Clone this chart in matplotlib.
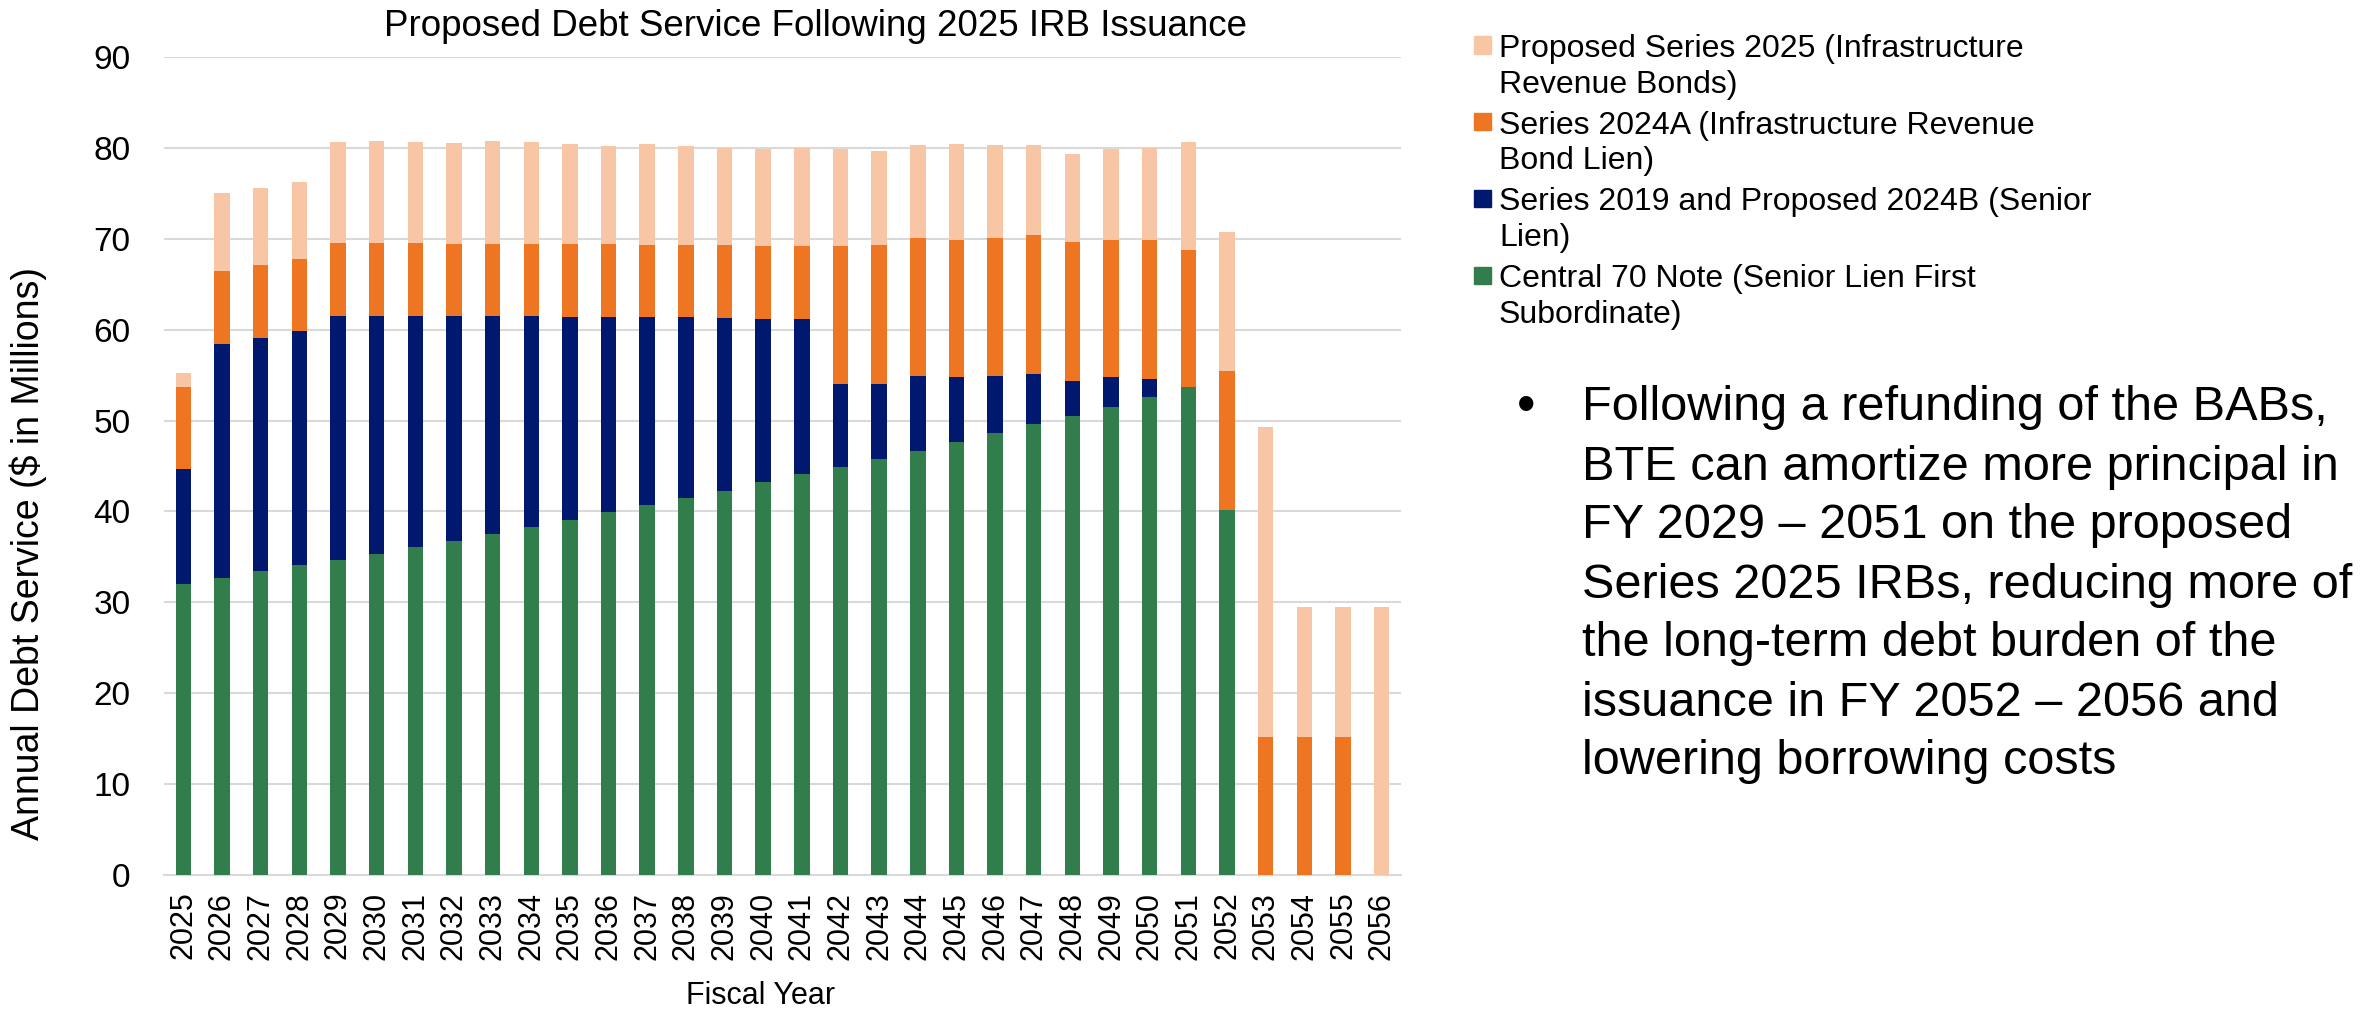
import numpy as np
import matplotlib
matplotlib.use("Agg")
import matplotlib.pyplot as plt
from matplotlib.patches import Rectangle

plt.rcParams["font.family"] = ["Liberation Sans", "DejaVu Sans"]

# fiscal years and debt service ($ millions) by lien
years = [str(y) for y in range(2025, 2057)]

central70 = [32.0, 32.7, 33.4, 34.1, 34.7, 35.3, 36.1, 36.8, 37.5, 38.3, 39.1, 39.9,
             40.7, 41.5, 42.3, 43.2, 44.1, 44.9, 45.8, 46.7, 47.6, 48.6, 49.6, 50.5,
             51.5, 52.6, 53.7, 40.2, 0, 0, 0, 0]
series2019 = [12.7, 25.7, 25.7, 25.7, 26.8, 26.2, 25.4, 24.7, 24.0, 23.2, 22.3, 21.5,
              20.7, 19.9, 19.0, 18.0, 17.1, 9.1, 8.2, 8.2, 7.2, 6.3, 5.5, 3.8,
              3.3, 2.0, 0, 0, 0, 0, 0, 0]
series2024a = [9.0, 8.0, 8.0, 8.0, 8.0, 8.0, 8.0, 7.9, 7.9, 7.9, 8.0, 8.0,
               7.9, 7.9, 8.0, 8.0, 8.0, 15.2, 15.3, 15.2, 15.1, 15.2, 15.3, 15.3,
               15.1, 15.3, 15.1, 15.2, 15.2, 15.2, 15.2, 0]
series2025 = [1.5, 8.6, 8.5, 8.5, 11.2, 11.3, 11.1, 11.1, 11.4, 11.2, 11.0, 10.8,
              11.1, 10.9, 10.7, 10.7, 10.8, 10.7, 10.4, 10.2, 10.5, 10.2, 9.9, 9.7,
              10.0, 10.1, 11.8, 15.3, 34.1, 14.3, 14.3, 29.5]

labels = ["Central 70 Note (Senior Lien First\nSubordinate)",
          "Series 2019 and Proposed 2024B (Senior\nLien)",
          "Series 2024A (Infrastructure Revenue\nBond Lien)",
          "Proposed Series 2025 (Infrastructure\nRevenue Bonds)"]
colors = ["#317D4C", "#00196E", "#EE7622", "#F8C6A5"]

bullet_text = ("Following a refunding of the BABs,\n"
               "BTE can amortize more principal in\n"
               "FY 2029 \u2013 2051 on the proposed\n"
               "Series 2025 IRBs, reducing more of\n"
               "the long-term debt burden of the\n"
               "issuance in FY 2052 \u2013 2056 and\n"
               "lowering borrowing costs")

W, H = 2369, 1010
fig = plt.figure(figsize=(W / 100, H / 100), dpi=100)
ax = fig.add_axes([164 / W, 1 - 875 / H, (1401 - 164) / W, (875 - 57) / H])

x = np.arange(len(years))
bottom = np.zeros(len(years))
for vals, col in zip([central70, series2019, series2024a, series2025], colors):
    ax.bar(x, vals, width=0.4, bottom=bottom, color=col, zorder=3)
    bottom += np.array(vals)

ax.set_xlim(-0.5, len(years) - 0.5)
ax.set_ylim(0, 90)
ax.set_yticks(range(0, 91, 10))
ax.set_xticks(x)
ax.set_xticklabels(years, rotation=90, fontsize=22)
ax.tick_params(axis="y", labelsize=24, length=0, pad=24)
ax.tick_params(axis="x", length=0, pad=12)
ax.grid(axis="y", color="#D9D9D9", linewidth=1.5, zorder=0)
for s in ["top", "right", "left"]:
    ax.spines[s].set_visible(False)
ax.spines["bottom"].set_color("#D9D9D9")
ax.spines["bottom"].set_linewidth(1.5)

fig.text(815 / W, 1 - 26 / H, "Proposed Debt Service Following 2025 IRB Issuance",
         ha="center", va="center", fontsize=26.5)
fig.text(28 / W, 1 - 553 / H, "Annual Debt Service ($ in Millions)",
         rotation=90, ha="center", va="center", fontsize=27)
fig.text(761 / W, 1 - 996 / H, "Fiscal Year", ha="center", va="center", fontsize=22)

# legend, top entry first, marker next to first line
for i, k in enumerate([3, 2, 1, 0]):
    yc = 45 + 76.7 * i
    fig.patches.append(Rectangle((1474 / W, 1 - (yc + 8.5) / H), 17 / W, 17 / H,
                                 color=colors[k], transform=fig.transFigure))
    fig.text(1499 / W, 1 - (yc - 11) / H, labels[k], ha="left", va="top",
             fontsize=23, linespacing=1.24)

fig.text(1517 / W, 1 - 408 / H, "\u2022", ha="left", va="center", fontsize=38)
fig.text(1582 / W, 1 - 585 / H, bullet_text, ha="left", va="center",
         fontsize=35, linespacing=1.4)

fig.savefig("out.png", dpi=100)
